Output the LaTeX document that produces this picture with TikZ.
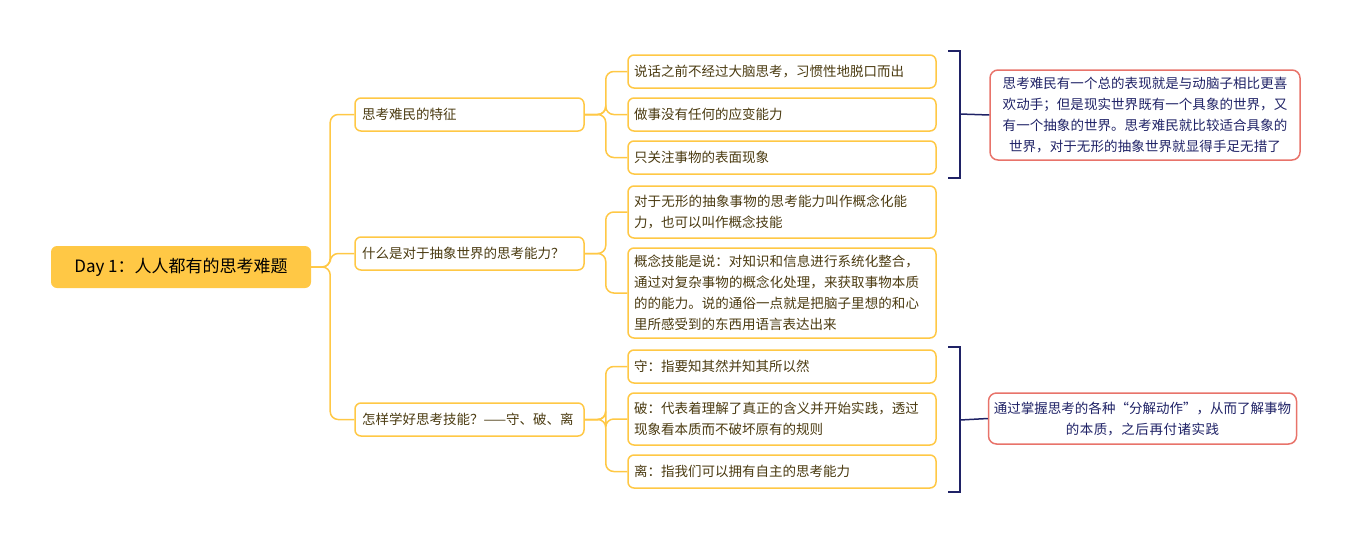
\documentclass[tikz,border=0pt]{standalone}
\usepackage{fontspec}
\setmainfont{Noto Sans CJK SC}
\XeTeXlinebreaklocale "zh"
\XeTeXlinebreakskip=0pt plus 0.2pt
\usetikzlibrary{positioning,calc}
\definecolor{gold}{HTML}{FFC845}
\definecolor{goldline}{HTML}{FFC845}
\definecolor{leaftext}{HTML}{4A3A10}
\definecolor{navy}{HTML}{1F2266}
\definecolor{salmon}{HTML}{E8736A}

\begin{document}
\begin{tikzpicture}[x=1pt,y=-1pt,
    rootbox/.style={fill=gold, rounded corners=6pt, minimum width=260pt, minimum height=42pt, font=\fontsize{17}{20}\selectfont},
    topic/.style={draw=goldline, line width=1.5pt, rounded corners=6pt, minimum width=229pt, minimum height=33pt, text width=215pt, align=left, text=leaftext, font=\fontsize{13.5}{21}\selectfont},
    leaf/.style={draw=goldline, line width=1.5pt, rounded corners=6pt, minimum width=308pt, text width=296pt, align=left, text=leaftext, font=\fontsize{13.5}{21}\selectfont, inner sep=5pt},
    note/.style={draw=salmon, line width=1.5pt, rounded corners=8pt, text width=300pt, align=center, text=navy, font=\fontsize{13.5}{21}\selectfont, inner sep=5pt},
    link/.style={goldline, line width=1.5pt, rounded corners=8pt},
    bracket/.style={navy, line width=1.5pt}]
    \useasboundingbox (0,0) rectangle (1356,544);
    % root
    \node[rootbox] (root) at (181,267) {Day 1：人人都有的思考难题};
    % topics
    \node[topic] (feature) at (469.5,114.5) {思考难民的特征};
    \node[topic] (ability) at (469.5,253.5) {什么是对于抽象世界的思考能力？};
    \node[topic] (learn) at (469.5,419.5) {怎样学好思考技能？——守、破、离};
    % leaves
    \node[leaf, minimum height=33pt] (f1) at (782,71.5) {说话之前不经过大脑思考，习惯性地脱口而出};
    \node[leaf, minimum height=33pt] (f2) at (782,114.5) {做事没有任何的应变能力};
    \node[leaf, minimum height=33pt] (f3) at (782,157.5) {只关注事物的表面现象};
    \node[leaf, minimum height=52pt] (a1) at (782,212) {对于无形的抽象事物的思考能力叫作概念化能力，也可以叫作概念技能};
    \node[leaf, minimum height=90pt] (a2) at (782,293) {概念技能是说：对知识和信息进行系统化整合，通过对复杂事物的概念化处理，来获取事物本质的的能力。说的通俗一点就是把脑子里想的和心里所感受到的东西用语言表达出来};
    \node[leaf, minimum height=33pt] (l1) at (782,366.5) {守：指要知其然并知其所以然};
    \node[leaf, minimum height=52pt] (l2) at (782,419) {破：代表着理解了真正的含义并开始实践，透过现象看本质而不破坏原有的规则};
    \node[leaf, minimum height=33pt] (l3) at (782,471.5) {离：指我们可以拥有自主的思考能力};
    % notes
    \node[note, minimum height=90pt] (sum1) at (1145,115) {思考难民有一个总的表现就是与动脑子相比更喜欢动手；但是现实世界既有一个具象的世界，又有一个抽象的世界。思考难民就比较适合具象的世界，对于无形的抽象世界就显得手足无措了};
    \node[note, minimum height=51pt, text width=298pt] (sum2) at (1142.5,418.5) {通过掌握思考的各种“分解动作”，从而了解事物\\的本质，之后再付诸实践};
    % connectors
    \foreach \t in {feature,ability,learn}
        \draw[link] (root.east) -- ++(19,0) |- (\t.west);
    \foreach \t in {f1,f2,f3}
        \draw[link] (feature.east) -- ++(21,0) |- (\t.west);
    \foreach \t in {a1,a2}
        \draw[link] (ability.east) -- ++(21,0) |- (\t.west);
    \foreach \t in {l1,l2,l3}
        \draw[link] (learn.east) -- ++(21,0) |- (\t.west);
    % brackets
    \coordinate (b1) at (960,114);
    \coordinate (b2) at (960,420);
    \draw[bracket] (948,51) -- (960,51) -- (960,178) -- (948,178);
    \draw[bracket] (b1) -- (sum1.west);
    \draw[bracket] (948,347) -- (960,347) -- (960,492) -- (948,492);
    \draw[bracket] (b2) -- (sum2.west);
\end{tikzpicture}
\end{document}
